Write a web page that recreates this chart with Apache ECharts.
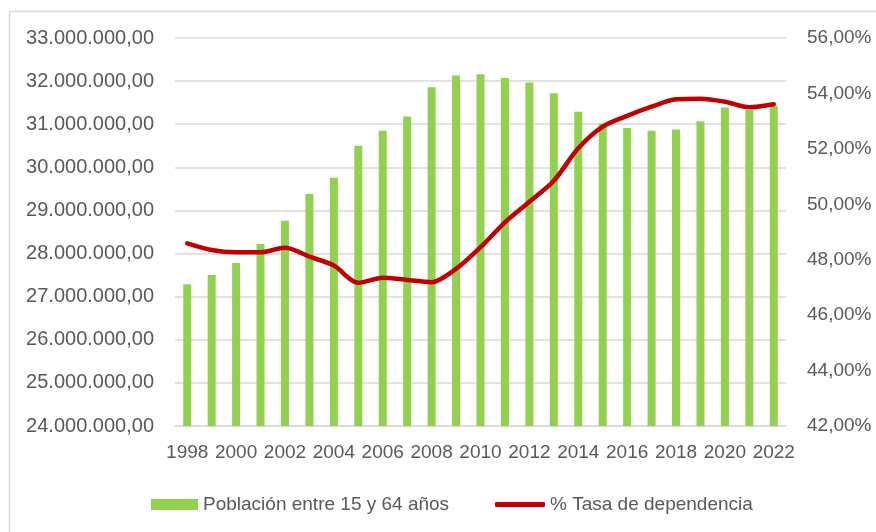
<!DOCTYPE html>
<html>
<head>
<meta charset="utf-8">
<script src="https://cdn.jsdelivr.net/npm/echarts@6/dist/echarts.min.js"></script>
<style>
  html, body { margin: 0; padding: 0; background: #fff; }
  #chart { width: 876px; height: 532px; }
</style>
</head>
<body>
<div id="chart"></div>
<script>
// años
const years = ['1998', '1999', '2000', '2001', '2002', '2003', '2004', '2005', '2006', '2007',
  '2008', '2009', '2010', '2011', '2012', '2013', '2014', '2015', '2016', '2017',
  '2018', '2019', '2020', '2021', '2022'];

// población entre 15 y 64 años
const poblacion = [27290000, 27500000, 27780000, 28220000, 28760000, 29380000, 29760000, 30500000,
  30850000, 31180000, 31860000, 32130000, 32160000, 32070000, 31970000, 31720000, 31290000,
  31010000, 30910000, 30850000, 30880000, 31070000, 31390000, 31330000, 31420000];

// % tasa de dependencia
const tasa = [48.59, 48.35, 48.27, 48.27, 48.43, 48.11, 47.79, 47.17, 47.35, 47.27,
  47.19, 47.67, 48.45, 49.35, 50.09, 50.85, 52.02, 52.80, 53.19, 53.52,
  53.79, 53.81, 53.70, 53.50, 53.61];

const textColor = '#595959';
const font = 'Liberation Sans';

function fmtMiles(v) {
  return String(Math.round(v)).replace(/\B(?=(\d{3})+(?!\d))/g, '.') + ',00';
}

const legendText = { color: textColor, fontSize: 19, fontFamily: font };

const chart = echarts.init(document.getElementById('chart'));

chart.setOption({
  animation: false,
  backgroundColor: '#fff',
  graphic: [{
    type: 'rect',
    shape: { x: 9.5, y: 11.5, width: 900, height: 600 },
    style: { fill: 'none', stroke: '#d9d9d9', lineWidth: 1.5 },
    silent: true
  }],
  grid: { left: 175, right: 90, top: 38, bottom: 106 },
  legend: [
    {
      left: 151,
      top: 495,
      padding: 0,
      itemWidth: 47,
      itemHeight: 11,
      textStyle: legendText,
      data: [{ name: 'Población entre 15 y 64 años', icon: 'rect' }]
    },
    {
      left: 495,
      top: 495,
      padding: 0,
      itemWidth: 50,
      itemHeight: 5,
      textStyle: legendText,
      data: [{ name: '% Tasa de dependencia', icon: 'roundRect' }]
    }
  ],
  xAxis: {
    type: 'category',
    data: years,
    axisTick: { show: false },
    axisLine: { lineStyle: { color: '#d9d9d9', width: 1.5 } },
    axisLabel: {
      interval: 1,
      margin: 17,
      color: textColor,
      fontSize: 19,
      fontFamily: font
    }
  },
  yAxis: [
    {
      type: 'value',
      min: 24000000,
      max: 33000000,
      interval: 1000000,
      axisLine: { show: false },
      axisTick: { show: false },
      splitLine: { lineStyle: { color: '#d9d9d9', width: 1.5 } },
      axisLabel: {
        margin: 21,
        color: textColor,
        fontSize: 20,
        fontFamily: font,
        formatter: fmtMiles
      }
    },
    {
      type: 'value',
      min: 42,
      max: 56,
      interval: 2,
      axisLine: { show: false },
      axisTick: { show: false },
      splitLine: { show: false },
      axisLabel: {
        margin: 21,
        color: textColor,
        fontSize: 19,
        fontFamily: font,
        formatter: v => v.toFixed(2).replace('.', ',') + '%'
      }
    }
  ],
  series: [
    {
      name: 'Población entre 15 y 64 años',
      type: 'bar',
      data: poblacion,
      barWidth: 8,
      itemStyle: { color: '#92D050' }
    },
    {
      name: '% Tasa de dependencia',
      type: 'line',
      yAxisIndex: 1,
      data: tasa,
      smooth: 0.3,
      symbol: 'none',
      lineStyle: { color: '#C00000', width: 4.5, cap: 'round', join: 'round' },
      itemStyle: { color: '#C00000' }
    }
  ]
});
</script>
</body>
</html>
